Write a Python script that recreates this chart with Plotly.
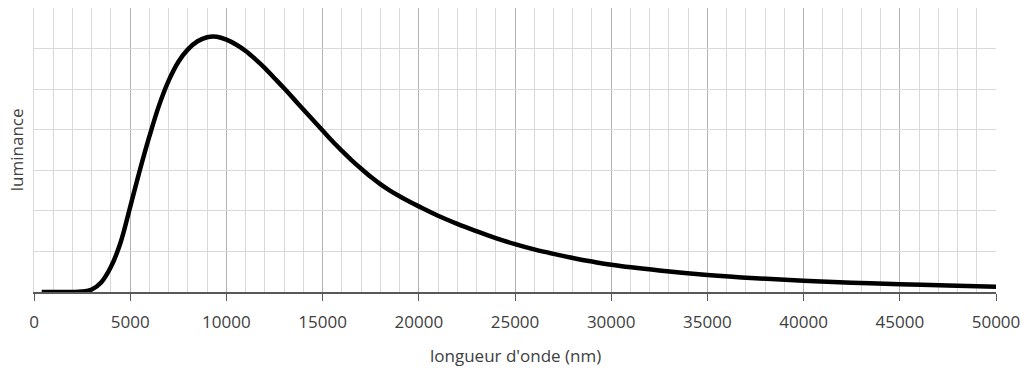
import plotly.graph_objects as go

# Values (wavelength in nm, luminance in grid units)
wavelength_nm = [400, 1000, 1500, 2000, 2500, 3000, 3500, 4000, 4500, 5000,
                 5500, 6000, 6500, 7000, 7500, 8000, 8500, 9000, 9500,
                 10000, 10500, 11000, 11500, 12000, 12500, 13000, 13500, 14000,
                 14500, 15000, 15500, 16000, 16500, 17000, 17500, 18000, 18500,
                 19000, 19500, 20000, 21000, 22000,
                 23000, 24000, 25000, 26000, 27000, 28000, 29000, 30000, 32500,
                 35000, 37500, 40000, 42500, 45000, 47500, 50000]
luminance = [0, 0, 0, 0, 0.01, 0.06, 0.24, 0.62, 1.22, 2.1,
             3.0, 3.84, 4.6, 5.21, 5.67, 5.98, 6.18, 6.28, 6.29,
             6.22, 6.1, 5.94, 5.74, 5.52, 5.27, 5.02, 4.76, 4.5,
             4.24, 3.98, 3.72, 3.48, 3.25, 3.04, 2.84, 2.66, 2.5,
             2.36, 2.23, 2.11, 1.88, 1.68,
             1.5, 1.33, 1.18, 1.05, 0.94, 0.84, 0.75, 0.67, 0.53,
             0.42, 0.34, 0.28, 0.23, 0.19, 0.16, 0.13]

x_ticks = [0, 5000, 10000, 15000, 20000, 25000, 30000, 35000, 40000, 45000, 50000]
x_tick_labels = [str(v) for v in x_ticks]

x_title = "longueur d'onde (nm)"
y_title = "luminance"

FONT = "Open Sans, Segoe UI, sans-serif"
TXT = "#404040"

fig = go.Figure()
fig.add_trace(go.Scatter(
    x=wavelength_nm, y=luminance, mode="lines",
    line=dict(color="#000000", width=4.5, shape="spline", smoothing=1.0),
    hoverinfo="skip", showlegend=False,
))

fig.update_layout(
    width=1030, height=369,
    margin=dict(l=34, r=34, t=8, b=77, autoexpand=False),
    paper_bgcolor="white", plot_bgcolor="white",
    font=dict(family=FONT, color=TXT, size=17),
    xaxis=dict(
        range=[0, 50000], tickmode="array", tickvals=x_ticks, ticktext=x_tick_labels,
        showgrid=True, gridcolor="#b3b3b3", gridwidth=1,
        minor=dict(dtick=1000, showgrid=True, gridcolor="#d9d9d9", gridwidth=1, ticks=""),
        ticks="outside", ticklen=7, tickcolor="#595959", tickwidth=1,
        ticklabelstandoff=7,
        showline=True, linecolor="#595959", linewidth=1.5,
        zeroline=False, tickfont=dict(family=FONT, size=17, color=TXT),
        fixedrange=True,
    ),
    yaxis=dict(
        range=[0, 7], dtick=1, showticklabels=False,
        showgrid=True, gridcolor="#d9d9d9", gridwidth=1,
        zeroline=False, showline=True, linecolor="#d9d9d9", linewidth=1,
        fixedrange=True,
    ),
    annotations=[
        dict(text=x_title, xref="paper", yref="paper", x=0.5, y=-0.225,
             xanchor="center", yanchor="middle", showarrow=False,
             font=dict(family=FONT, size=17, color=TXT)),
        dict(text=y_title, xref="paper", yref="paper", x=-0.0185, y=0.5,
             xanchor="center", yanchor="middle", textangle=-90, showarrow=False,
             font=dict(family=FONT, size=17, color=TXT)),
    ],
)

fig.write_html("out.html", config={"displayModeBar": False},
               post_script="document.body.style.margin='0';")
